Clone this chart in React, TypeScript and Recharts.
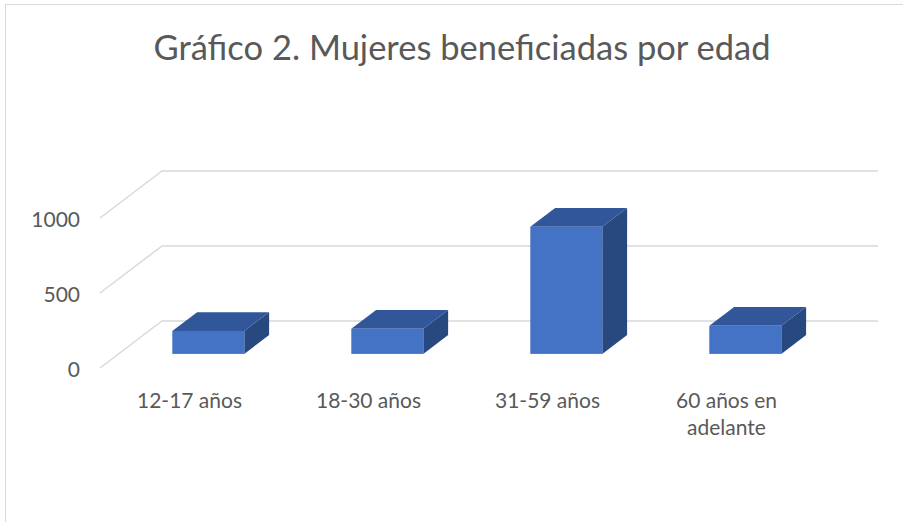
import React from 'react'
import { BarChart, Bar, XAxis, YAxis, CartesianGrid } from 'recharts'

// categorías y valores
const categories = ['12-17 años', '18-30 años', '31-59 años', '60 años en adelante']
const mujeres = [153, 167, 848, 187]
const yTicks = [0, 500, 1000]

const data = categories.map((c, i) => ({ edad: c, mujeres: mujeres[i] }))

// profundidad del "3D" (pared del fondo respecto al plano frontal)
const DX = 62
const DY = -47
const FRONT = 0.3
const DEPTH = 0.4

const TXT = '#595959'
const FONT = 'Lato, "Open Sans", sans-serif'

// corte simple de etiquetas largas por palabras
const wrap = (s: string, max = 11) => {
  const lines: string[] = []
  let cur = ''
  for (const w of s.split(' ')) {
    const next = cur ? cur + ' ' + w : w
    if (next.length > max && cur) {
      lines.push(cur)
      cur = w
    } else cur = next
  }
  if (cur) lines.push(cur)
  return lines
}

const Bar3D = (props: any) => {
  const { x, y, width, height } = props
  if (height == null || width == null) return null
  const x0 = x + DX * FRONT
  const y0 = y + DY * FRONT
  const dx = DX * DEPTH
  const dy = DY * DEPTH
  const top = `${x0},${y0} ${x0 + dx},${y0 + dy} ${x0 + width + dx},${y0 + dy} ${x0 + width},${y0}`
  const side = `${x0 + width},${y0} ${x0 + width + dx},${y0 + dy} ${x0 + width + dx},${y0 + height + dy} ${x0 + width},${y0 + height}`
  return (
    <g>
      <polygon points={side} fill="#284880" />
      <polygon points={top} fill="#31579A" />
      <rect x={x0} y={y0} width={width} height={height} fill="#4472C4" />
    </g>
  )
}

const gridLine = (p: any) => {
  const { x1, y1, x2 } = p
  return (
    <polyline
      key={p.key}
      points={`${x1},${y1} ${x1 + DX},${y1 + DY} ${x2 + DX},${y1 + DY}`}
      fill="none"
      stroke="#D9D9D9"
      strokeWidth={1.5}
    />
  )
}

const YTick = (p: any) => (
  <text x={80} y={p.y} textAnchor="end" dominantBaseline="central" fill={TXT} fontSize={21} fontFamily={FONT}>
    {p.payload.value}
  </text>
)

const XTick = (p: any) => (
  <text x={p.x} y={408} textAnchor="middle" fill={TXT} fontSize={21} fontFamily={FONT}>
    {wrap(String(p.payload.value)).map((l, i) => (
      <tspan key={i} x={p.x} dy={i === 0 ? 0 : 27}>
        {l}
      </tspan>
    ))}
  </text>
)

export default function App() {
  return (
    <div style={{ position: 'absolute', left: 0, top: 0, width: 903, height: 522, overflow: 'hidden', background: '#fff' }}>
      <div style={{ position: 'absolute', left: 5, top: 4, width: 1000, height: 1000, border: '1px solid #D9D9D9' }} />
      <div
        style={{
          position: 'absolute', left: 0, top: 27, width: 924, textAlign: 'center',
          fontFamily: FONT, fontSize: 34.5, color: TXT, whiteSpace: 'nowrap', lineHeight: '40px',
        }}
      >
        Gráfico 2. Mujeres beneficiadas por edad
      </div>
      <div style={{ position: 'absolute', left: 0, top: 0 }}>
        <BarChart
          width={903}
          height={522}
          data={data}
          margin={{ top: 218, right: 87, bottom: 94, left: 0 }}
          barCategoryGap="30%"
        >
          <CartesianGrid vertical={false} horizontal={gridLine} />
          <XAxis dataKey="edad" height={60} axisLine={false} tickLine={false} tick={<XTick />} interval={0} />
          <YAxis width={100} domain={[0, 1000]} ticks={yTicks} axisLine={false} tickLine={false} tick={<YTick />} />
          <Bar dataKey="mujeres" shape={<Bar3D />} isAnimationActive={false} />
        </BarChart>
      </div>
    </div>
  )
}
